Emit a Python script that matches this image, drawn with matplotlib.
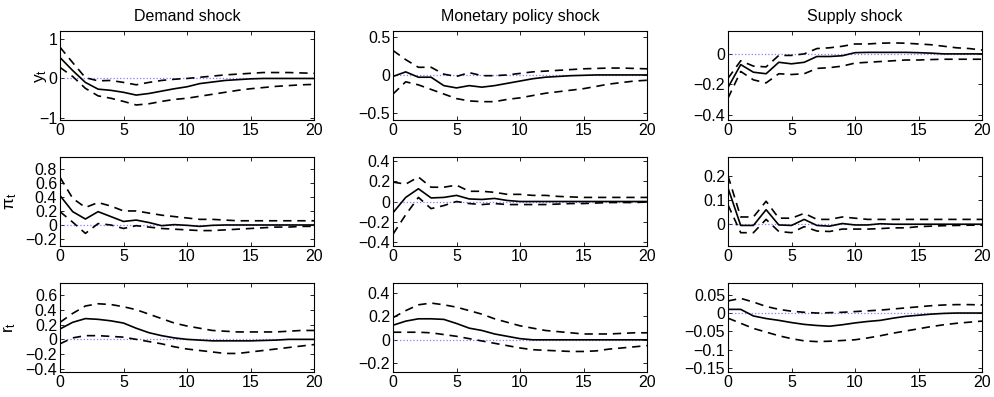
import numpy as np
import matplotlib
matplotlib.use("Agg")
import matplotlib.pyplot as plt

plt.rcParams["font.family"] = ["Liberation Sans", "DejaVu Sans"]
plt.rcParams["mathtext.fontset"] = "custom"
plt.rcParams["mathtext.it"] = "Liberation Sans:italic"
plt.rcParams["mathtext.rm"] = "Liberation Sans"

horizon = np.arange(21)
titles = ["Demand shock", "Monetary policy shock", "Supply shock"]
row_labels = [r"$\mathrm{y}_\mathrm{t}$", r"$\mathrm{π}_\mathrm{t}$", r"$\mathrm{r}_\mathrm{t}$"]

# output gap
y_dem = [0.53, 0.2, -0.1, -0.27, -0.3, -0.35, -0.42, -0.38, -0.32, -0.26, -0.21, -0.13, -0.09, -0.05, -0.03, -0.01, 0, 0, 0, 0, 0]
y_dem_hi = [0.79, 0.4, 0.02, -0.06, -0.05, -0.1, -0.16, -0.1, -0.05, -0.02, 0, 0.03, 0.06, 0.09, 0.11, 0.13, 0.15, 0.15, 0.15, 0.14, 0.13]
y_dem_lo = [0.28, 0.05, -0.25, -0.44, -0.5, -0.58, -0.67, -0.64, -0.58, -0.53, -0.5, -0.45, -0.4, -0.35, -0.3, -0.26, -0.23, -0.2, -0.18, -0.16, -0.15]
y_mon = [-0.02, 0.04, -0.03, -0.03, -0.14, -0.17, -0.14, -0.16, -0.14, -0.11, -0.08, -0.05, -0.03, -0.02, -0.01, -0.005, 0, 0, 0, 0, 0]
y_mon_hi = [0.32, 0.2, 0.1, 0.1, 0.01, -0.02, 0.03, -0.01, -0.01, 0, 0.02, 0.04, 0.05, 0.06, 0.07, 0.08, 0.085, 0.09, 0.09, 0.085, 0.08]
y_mon_lo = [-0.25, -0.09, -0.13, -0.19, -0.25, -0.31, -0.34, -0.35, -0.35, -0.32, -0.3, -0.27, -0.24, -0.22, -0.2, -0.18, -0.15, -0.12, -0.1, -0.08, -0.07]
y_sup = [-0.22, -0.07, -0.12, -0.13, -0.055, -0.065, -0.055, -0.017, -0.017, -0.012, 0.008, 0.01, 0.01, 0.01, 0.01, 0.008, 0.005, 0, 0, 0, 0]
y_sup_hi = [-0.16, -0.045, -0.08, -0.085, -0.01, -0.01, 0, 0.035, 0.04, 0.05, 0.065, 0.065, 0.07, 0.072, 0.07, 0.065, 0.06, 0.05, 0.04, 0.035, 0.025]
y_sup_lo = [-0.29, -0.115, -0.17, -0.19, -0.13, -0.135, -0.13, -0.095, -0.09, -0.08, -0.06, -0.055, -0.05, -0.045, -0.04, -0.04, -0.037, -0.035, -0.035, -0.035, -0.035]

# inflation
pi_dem = [0.42, 0.19, 0.085, 0.19, 0.12, 0.05, 0.07, 0.035, -0.01, 0.005, -0.005, -0.02, -0.005, 0, 0, 0, 0, 0, 0, 0, 0]
pi_dem_hi = [0.68, 0.38, 0.25, 0.32, 0.27, 0.2, 0.2, 0.17, 0.14, 0.12, 0.1, 0.08, 0.08, 0.07, 0.06, 0.06, 0.06, 0.06, 0.06, 0.06, 0.06]
pi_dem_lo = [0.19, 0.04, -0.12, 0.02, 0, -0.05, -0.01, -0.03, -0.05, -0.06, -0.07, -0.08, -0.08, -0.07, -0.06, -0.05, -0.04, -0.03, -0.03, -0.02, -0.02]
pi_mon = [-0.11, 0.04, 0.125, 0.035, 0.04, 0.06, 0.025, 0.02, 0.03, 0.01, 0, 0, 0, 0, 0, 0, 0, 0, 0, 0, 0]
pi_mon_hi = [0.19, 0.17, 0.24, 0.14, 0.14, 0.16, 0.1, 0.1, 0.09, 0.07, 0.07, 0.06, 0.06, 0.05, 0.045, 0.04, 0.04, 0.04, 0.04, 0.04, 0.04]
pi_mon_lo = [-0.32, -0.13, 0.04, -0.07, -0.04, 0, -0.02, -0.03, -0.02, -0.03, -0.03, -0.03, -0.03, -0.025, -0.02, -0.02, -0.015, -0.01, -0.01, -0.01, -0.005]
pi_sup = [0.15, -0.005, -0.005, 0.06, -0.003, -0.005, 0.02, -0.005, -0.008, 0.003, -0.003, -0.003, 0.002, 0, 0, 0, 0, 0, 0, 0, 0]
pi_sup_hi = [0.2, 0.03, 0.03, 0.095, 0.025, 0.025, 0.045, 0.02, 0.02, 0.03, 0.025, 0.02, 0.02, 0.02, 0.02, 0.02, 0.02, 0.02, 0.02, 0.02, 0.02]
pi_sup_lo = [0.08, -0.035, -0.035, 0.02, -0.03, -0.035, -0.01, -0.028, -0.03, -0.02, -0.02, -0.02, -0.018, -0.015, -0.015, -0.01, -0.008, -0.006, -0.005, -0.004, -0.004]

# interest rate
r_dem = [0.14, 0.23, 0.28, 0.27, 0.25, 0.22, 0.15, 0.09, 0.05, 0.02, 0, -0.01, -0.02, -0.02, -0.02, -0.02, -0.015, -0.01, 0, 0, 0]
r_dem_hi = [0.23, 0.35, 0.45, 0.48, 0.47, 0.44, 0.4, 0.34, 0.28, 0.22, 0.18, 0.15, 0.12, 0.11, 0.1, 0.1, 0.1, 0.1, 0.11, 0.12, 0.12]
r_dem_lo = [-0.06, 0.02, 0.05, 0.05, 0.04, 0.03, 0, -0.03, -0.06, -0.1, -0.13, -0.15, -0.17, -0.19, -0.19, -0.17, -0.15, -0.13, -0.11, -0.09, -0.07]
r_mon = [0.125, 0.16, 0.18, 0.18, 0.175, 0.14, 0.1, 0.08, 0.05, 0.03, 0.01, 0, 0, 0, 0, 0, 0, 0, 0, 0, 0]
r_mon_hi = [0.19, 0.25, 0.3, 0.315, 0.3, 0.28, 0.25, 0.22, 0.18, 0.15, 0.12, 0.1, 0.08, 0.07, 0.06, 0.05, 0.05, 0.05, 0.055, 0.06, 0.06]
r_mon_lo = [0.065, 0.065, 0.065, 0.06, 0.045, 0.03, 0.01, -0.01, -0.03, -0.05, -0.07, -0.085, -0.09, -0.095, -0.1, -0.1, -0.095, -0.08, -0.07, -0.06, -0.05]
r_sup = [0.01, 0.01, -0.008, -0.015, -0.02, -0.026, -0.031, -0.034, -0.036, -0.032, -0.027, -0.023, -0.02, -0.014, -0.009, -0.006, -0.003, -0.001, 0, 0, 0]
r_sup_hi = [0.033, 0.04, 0.03, 0.018, 0.01, 0.005, 0.002, 0, 0.001, 0.002, 0.004, 0.006, 0.008, 0.011, 0.014, 0.017, 0.02, 0.022, 0.023, 0.023, 0.022]
r_sup_lo = [-0.014, -0.028, -0.042, -0.052, -0.062, -0.07, -0.076, -0.078, -0.077, -0.075, -0.073, -0.068, -0.062, -0.055, -0.049, -0.043, -0.037, -0.032, -0.028, -0.025, -0.022]

panels = [
    [(y_dem, y_dem_lo, y_dem_hi), (y_mon, y_mon_lo, y_mon_hi), (y_sup, y_sup_lo, y_sup_hi)],
    [(pi_dem, pi_dem_lo, pi_dem_hi), (pi_mon, pi_mon_lo, pi_mon_hi), (pi_sup, pi_sup_lo, pi_sup_hi)],
    [(r_dem, r_dem_lo, r_dem_hi), (r_mon, r_mon_lo, r_mon_hi), (r_sup, r_sup_lo, r_sup_hi)],
]

ylims = [
    [(-1.05, 1.2), (-0.59, 0.575), (-0.433, 0.15)],
    [(-0.3, 0.97), (-0.436, 0.436), (-0.09, 0.278)],
    [(-0.44, 0.76), (-0.276, 0.487), (-0.161, 0.082)],
]
yticks = [
    [[-1, 0, 1], [-0.5, 0, 0.5], [-0.4, -0.2, 0]],
    [[-0.2, 0, 0.2, 0.4, 0.6, 0.8], [-0.4, -0.2, 0, 0.2, 0.4], [0, 0.1, 0.2]],
    [[-0.4, -0.2, 0, 0.2, 0.4, 0.6], [-0.2, 0, 0.2, 0.4], [-0.15, -0.1, -0.05, 0, 0.05]],
]

W, H = 994, 397
lefts = [60, 393, 728]
tops = [31, 157, 283]
aw, ah = 254, 89
label_x = [-0.045, -0.16, -0.165]   # ylabel right edge, axes fraction

fig = plt.figure(figsize=(W / 100, H / 100), dpi=100)

for i in range(3):
    for j in range(3):
        ax = fig.add_axes([lefts[j] / W, 1 - (tops[i] + ah) / H, aw / W, ah / H])
        mid, lo, hi = panels[i][j]
        ax.plot(horizon, np.zeros(21), ":", color="#7f7fff", lw=0.9)
        ax.plot(horizon, hi, "--", color="k", lw=1.2, dashes=(5, 3.5))
        ax.plot(horizon, lo, "--", color="k", lw=1.2, dashes=(5, 3.5))
        ax.plot(horizon, mid, "-", color="k", lw=1.2)
        ax.set_xlim(0, 20)
        ax.set_ylim(*ylims[i][j])
        ax.set_xticks([0, 5, 10, 15, 20])
        ax.set_yticks(yticks[i][j])
        ax.set_yticklabels([("%g" % v).replace("-", "\u2212") for v in yticks[i][j]])
        ax.tick_params(direction="in", top=True, right=True, labelsize=11.5,
                       length=3, width=0.6, pad=2)
        for s in ax.spines.values():
            s.set_linewidth(0.8)
        if i == 0:
            ax.set_title(titles[j], fontsize=11.5, pad=7)
        if j == 0:
            ax.set_ylabel(row_labels[i], fontsize=12.5)
            ax.yaxis.set_label_coords(label_x[i], 0.5)

fig.savefig("out.png", dpi=100)
